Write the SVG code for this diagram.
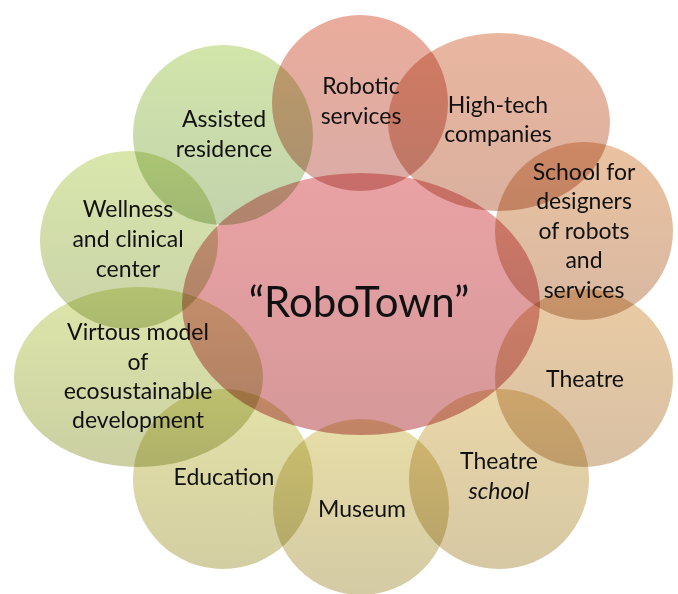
<svg xmlns="http://www.w3.org/2000/svg" width="678" height="594" viewBox="0 0 678 594">
<defs>
<linearGradient id="gC" x1="0" y1="0" x2="0" y2="1"><stop offset="0" stop-color="#EAA2A4"/><stop offset="1" stop-color="#D6989A"/></linearGradient>
<linearGradient id="g1" x1="0" y1="0" x2="0" y2="1"><stop offset="0" stop-color="#EAAC9C"/><stop offset="1" stop-color="#DAACA6"/></linearGradient>
<linearGradient id="g2" x1="0" y1="0" x2="0" y2="1"><stop offset="0" stop-color="#E9B6A0"/><stop offset="1" stop-color="#DAB09E"/></linearGradient>
<linearGradient id="g3" x1="0" y1="0" x2="0" y2="1"><stop offset="0" stop-color="#EAC2A0"/><stop offset="1" stop-color="#D8B8A2"/></linearGradient>
<linearGradient id="g4" x1="0" y1="0" x2="0" y2="1"><stop offset="0" stop-color="#EACCA4"/><stop offset="1" stop-color="#D8C0A4"/></linearGradient>
<linearGradient id="g5" x1="0" y1="0" x2="0" y2="1"><stop offset="0" stop-color="#EAD6A8"/><stop offset="1" stop-color="#D6C8A4"/></linearGradient>
<linearGradient id="g6" x1="0" y1="0" x2="0" y2="1"><stop offset="0" stop-color="#E8DEA8"/><stop offset="1" stop-color="#D4CAA4"/></linearGradient>
<linearGradient id="g7" x1="0" y1="0" x2="0" y2="1"><stop offset="0" stop-color="#E4E2A8"/><stop offset="1" stop-color="#D2CEA2"/></linearGradient>
<linearGradient id="g8" x1="0" y1="0" x2="0" y2="1"><stop offset="0" stop-color="#DEE6AA"/><stop offset="1" stop-color="#CBCFA2"/></linearGradient>
<linearGradient id="g9" x1="0" y1="0" x2="0" y2="1"><stop offset="0" stop-color="#D9E7AC"/><stop offset="1" stop-color="#C9D2A8"/></linearGradient>
<linearGradient id="g10" x1="0" y1="0" x2="0" y2="1"><stop offset="0" stop-color="#D2E5AA"/><stop offset="1" stop-color="#C2D2AC"/></linearGradient>
</defs>
<style>
.s{mix-blend-mode:multiply}
text{font-family:Lato,"Liberation Sans",sans-serif;font-size:23px;fill:#111;text-anchor:middle}
.big{font-size:42px}
.it{font-style:italic}
</style>
<rect width="678" height="594" fill="#fff"/>
<g id="n1"><circle class="s" cx="360" cy="103" r="88" fill="url(#g1)"/><text x="361" y="94">Robotic</text><text x="361" y="124">services</text></g>
<g id="n2"><ellipse class="s" cx="499" cy="122" rx="111" ry="89" fill="url(#g2)"/><text x="498" y="113">High-tech</text><text x="498" y="142">companies</text></g>
<g id="n3"><circle class="s" cx="584" cy="231" r="89" fill="url(#g3)"/><text x="584" y="180">School for</text><text x="584" y="209">designers</text><text x="584" y="239">of robots</text><text x="584" y="268">and</text><text x="584" y="298">services</text></g>
<g id="n4"><circle class="s" cx="584" cy="378" r="89" fill="url(#g4)"/><text x="585" y="387">Theatre</text></g>
<g id="n5"><circle class="s" cx="499" cy="479" r="90" fill="url(#g5)"/><text x="499" y="469">Theatre</text><text x="499" y="499" class="it">school</text></g>
<g id="n6"><circle class="s" cx="361" cy="507" r="88" fill="url(#g6)"/><text x="362" y="517">Museum</text></g>
<g id="n7"><circle class="s" cx="223" cy="479" r="90" fill="url(#g7)"/><text x="224" y="485">Education</text></g>
<g id="n8"><ellipse class="s" cx="138.5" cy="377" rx="124.5" ry="90" fill="url(#g8)"/><text x="138" y="340">Virtous model</text><text x="138" y="370">of</text><text x="138" y="399">ecosustainable</text><text x="138" y="428">development</text></g>
<g id="n9"><circle class="s" cx="129" cy="240" r="89" fill="url(#g9)"/><text x="128" y="217">Wellness</text><text x="128" y="247">and clinical</text><text x="128" y="277">center</text></g>
<g id="n10"><circle class="s" cx="223" cy="135" r="90" fill="url(#g10)"/><text x="224" y="127">Assisted</text><text x="224" y="157">residence</text></g>
<g id="center"><ellipse class="s" cx="361" cy="304" rx="179" ry="131" fill="url(#gC)"/><text x="359" y="317" class="big">“RoboTown”</text></g>
<g id="connectors"/>
</svg>
